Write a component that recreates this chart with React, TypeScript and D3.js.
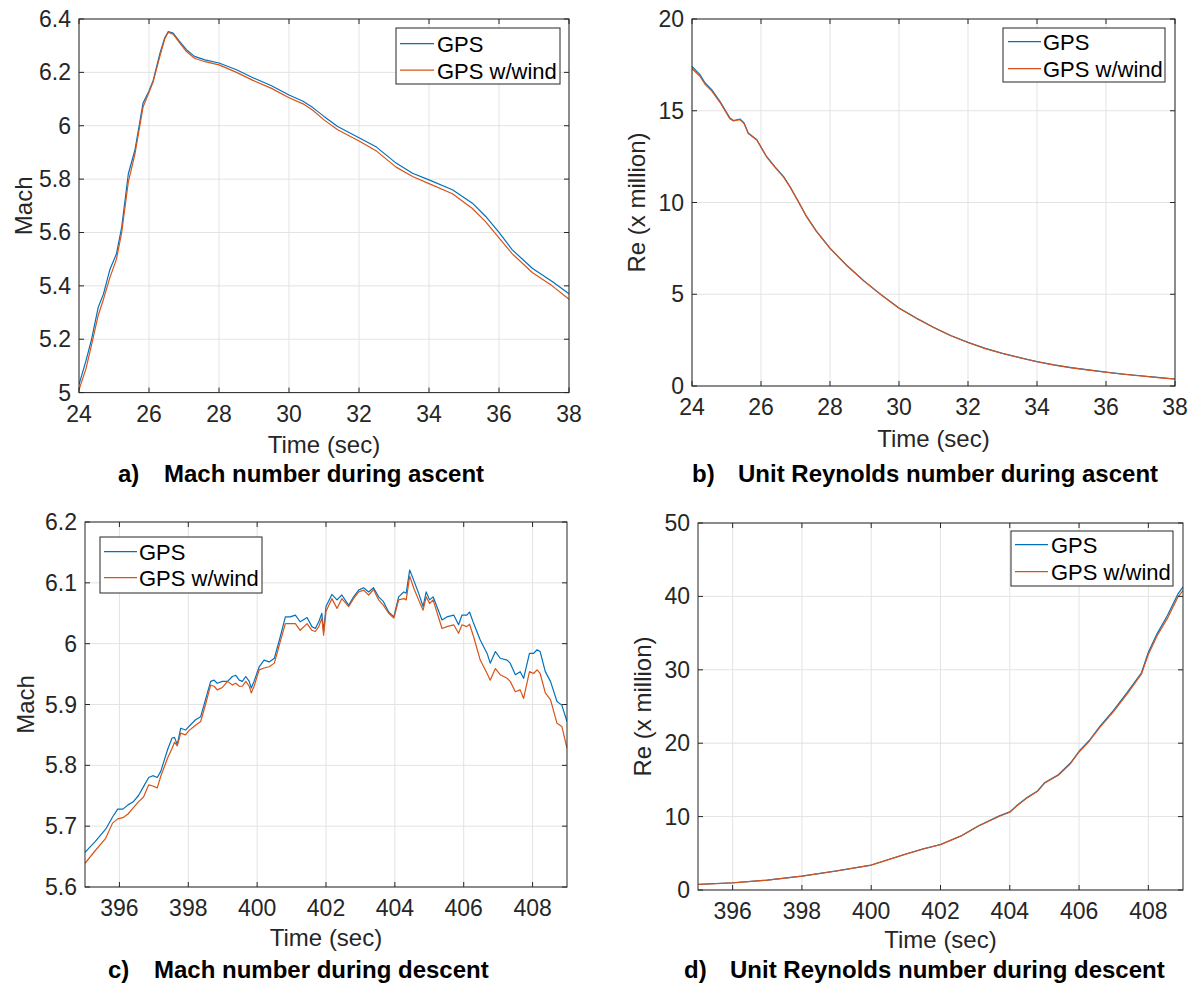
import React from "react";
import * as d3 from "d3";

// ---------- DATA ----------
// a) Mach number during ascent
const ascentMachTime = [24.0, 24.2, 24.36, 24.55, 24.7, 24.88, 25.07, 25.22, 25.41, 25.6, 25.83, 26.0, 26.12, 26.31, 26.45, 26.55, 26.69, 26.85, 27.07, 27.3, 27.6, 28.0, 28.5, 28.97, 29.5, 30.0, 30.4, 30.68, 31.0, 31.39, 32.0, 32.5, 33.06, 33.53, 34.0, 34.67, 35.24, 35.62, 36.0, 36.38, 36.95, 37.52, 38.0];
const ascentMachGPS = [5.03, 5.12, 5.2, 5.32, 5.37, 5.46, 5.52, 5.62, 5.82, 5.91, 6.085, 6.13, 6.17, 6.27, 6.33, 6.353, 6.347, 6.32, 6.285, 6.26, 6.247, 6.235, 6.21, 6.18, 6.15, 6.115, 6.092, 6.068, 6.035, 5.997, 5.955, 5.92, 5.86, 5.822, 5.797, 5.76, 5.71, 5.66, 5.6, 5.535, 5.466, 5.416, 5.37];
const ascentMachWind = [5.01, 5.09, 5.18, 5.29, 5.35, 5.43, 5.5, 5.6, 5.79, 5.895, 6.07, 6.125, 6.165, 6.26, 6.325, 6.35, 6.343, 6.315, 6.278, 6.253, 6.24, 6.228, 6.2, 6.17, 6.14, 6.105, 6.082, 6.058, 6.022, 5.985, 5.943, 5.905, 5.845, 5.81, 5.783, 5.745, 5.69, 5.64, 5.58, 5.52, 5.45, 5.4, 5.35];

// b) Unit Reynolds number during ascent (x million)
const ascentReTime = [24.0, 24.23, 24.38, 24.57, 24.81, 25.1, 25.2, 25.39, 25.51, 25.63, 25.88, 26.16, 26.4, 26.65, 26.84, 27.1, 27.32, 27.6, 28.0, 28.5, 29.0, 29.5, 30.0, 30.5, 31.0, 31.5, 32.0, 32.5, 33.0, 33.5, 34.0, 34.5, 35.0, 35.5, 36.0, 36.5, 37.0, 37.5, 38.0];
const ascentReGPS = [17.42, 16.97, 16.51, 16.15, 15.51, 14.6, 14.47, 14.55, 14.33, 13.79, 13.42, 12.51, 11.95, 11.42, 10.87, 10.0, 9.24, 8.45, 7.51, 6.55, 5.7, 4.95, 4.25, 3.7, 3.2, 2.75, 2.38, 2.05, 1.78, 1.55, 1.33, 1.15, 1.0, 0.88, 0.76, 0.65, 0.56, 0.47, 0.38];
const ascentReWind = [17.3, 16.88, 16.44, 16.08, 15.46, 14.56, 14.44, 14.52, 14.3, 13.76, 13.4, 12.49, 11.93, 11.4, 10.85, 9.98, 9.23, 8.44, 7.5, 6.54, 5.69, 4.94, 4.24, 3.69, 3.19, 2.74, 2.37, 2.04, 1.77, 1.54, 1.32, 1.14, 0.99, 0.87, 0.75, 0.64, 0.55, 0.46, 0.37];

// c) Mach number during descent
const descentMachTime = [395.0, 395.3, 395.6, 395.8, 395.95, 396.1, 396.25, 396.4, 396.55, 396.7, 396.85, 396.97, 397.1, 397.2, 397.4, 397.53, 397.6, 397.68, 397.78, 397.92, 398.02, 398.21, 398.36, 398.5, 398.65, 398.75, 398.84, 398.99, 399.14, 399.28, 399.38, 399.48, 399.57, 399.67, 399.77, 399.83, 399.91, 400.06, 400.2, 400.35, 400.5, 400.67, 400.82, 400.96, 401.11, 401.25, 401.45, 401.59, 401.69, 401.79, 401.88, 401.93, 402.0, 402.17, 402.32, 402.46, 402.66, 402.8, 402.95, 403.09, 403.24, 403.38, 403.53, 403.67, 403.82, 403.97, 404.11, 404.26, 404.33, 404.43, 404.55, 404.69, 404.82, 404.91, 405.01, 405.11, 405.22, 405.37, 405.51, 405.71, 405.85, 405.95, 406.09, 406.17, 406.29, 406.48, 406.68, 406.77, 406.92, 407.06, 407.26, 407.35, 407.5, 407.64, 407.74, 407.91, 408.03, 408.13, 408.22, 408.37, 408.52, 408.71, 408.85, 409.0];
const descentMachGPS = [5.657, 5.675, 5.695, 5.715, 5.728, 5.728, 5.735, 5.74, 5.75, 5.765, 5.78, 5.783, 5.78, 5.79, 5.826, 5.845, 5.846, 5.834, 5.861, 5.858, 5.864, 5.875, 5.88, 5.908, 5.938, 5.94, 5.935, 5.938, 5.938, 5.946, 5.948, 5.94, 5.938, 5.946, 5.938, 5.927, 5.938, 5.962, 5.973, 5.97, 5.976, 6.011, 6.044, 6.044, 6.047, 6.036, 6.043, 6.028, 6.025, 6.036, 6.05, 6.02, 6.061, 6.081, 6.072, 6.08, 6.063, 6.077, 6.088, 6.092, 6.085, 6.092, 6.077, 6.069, 6.052, 6.044, 6.077, 6.085, 6.083, 6.121, 6.104, 6.083, 6.061, 6.085, 6.072, 6.077, 6.061, 6.039, 6.044, 6.047, 6.031, 6.047, 6.047, 6.052, 6.033, 6.006, 5.984, 5.968, 5.987, 5.976, 5.973, 5.968, 5.949, 5.954, 5.943, 5.984, 5.984, 5.99, 5.987, 5.954, 5.938, 5.905, 5.899, 5.872];
const descentMachWind = [5.639, 5.66, 5.68, 5.705, 5.712, 5.714, 5.72, 5.73, 5.74, 5.748, 5.768, 5.766, 5.763, 5.782, 5.812, 5.828, 5.838, 5.832, 5.853, 5.85, 5.857, 5.866, 5.872, 5.9, 5.932, 5.93, 5.924, 5.928, 5.938, 5.932, 5.935, 5.93, 5.93, 5.938, 5.93, 5.919, 5.93, 5.957, 5.96, 5.962, 5.968, 6.003, 6.033, 6.033, 6.033, 6.022, 6.033, 6.022, 6.02, 6.028, 6.042, 6.014, 6.053, 6.074, 6.058, 6.074, 6.061, 6.074, 6.085, 6.088, 6.08, 6.089, 6.072, 6.063, 6.05, 6.042, 6.072, 6.074, 6.072, 6.111, 6.091, 6.072, 6.055, 6.077, 6.066, 6.072, 6.052, 6.025, 6.028, 6.031, 6.017, 6.031, 6.028, 6.032, 6.011, 5.973, 5.951, 5.94, 5.959, 5.949, 5.943, 5.938, 5.921, 5.924, 5.91, 5.954, 5.951, 5.957, 5.951, 5.919, 5.908, 5.869, 5.864, 5.828];

// d) Unit Reynolds number during descent (x million)
const descentReTime = [395.0, 396.0, 397.0, 398.0, 399.0, 400.0, 401.0, 401.5, 402.0, 402.6, 403.1, 403.7, 404.0, 404.2, 404.5, 404.8, 405.0, 405.4, 405.75, 406.0, 406.3, 406.6, 407.0, 407.4, 407.8, 408.0, 408.25, 408.55, 408.85, 409.0];
const descentReGPS = [0.76, 0.99, 1.35, 1.89, 2.6, 3.4, 4.9, 5.6, 6.2, 7.4, 8.75, 10.1, 10.65, 11.5, 12.6, 13.5, 14.6, 15.7, 17.3, 18.9, 20.4, 22.3, 24.5, 27.0, 29.6, 32.4, 34.9, 37.4, 40.3, 41.3];
const descentReWind = [0.75, 0.98, 1.34, 1.88, 2.59, 3.38, 4.88, 5.58, 6.18, 7.37, 8.72, 10.05, 10.6, 11.45, 12.55, 13.44, 14.53, 15.62, 17.2, 18.8, 20.3, 22.15, 24.35, 26.8, 29.4, 32.1, 34.6, 37.0, 39.9, 40.8];

// ticks
const ascentTimeTicks = [24, 26, 28, 30, 32, 34, 36, 38];
const ascentMachTicks = [5, 5.2, 5.4, 5.6, 5.8, 6, 6.2, 6.4];
const ascentReTicks = [0, 5, 10, 15, 20];
const descentTimeTicks = [396, 398, 400, 402, 404, 406, 408];
const descentMachTicks = [5.6, 5.7, 5.8, 5.9, 6, 6.1, 6.2];
const descentReTicks = [0, 10, 20, 30, 40, 50];

const seriesNames = ["GPS", "GPS w/wind"];
const seriesColors = ["#0072BD", "#D95319"];

// ---------- LAYOUT ----------
const FONT = "'Liberation Sans', Arial, Helvetica, sans-serif";
const AX = "#262626";
const GRID = "#e3e3e3";

type PanelCfg = {
  left: number; right: number; top: number; bottom: number;
  xDomain: [number, number]; yDomain: [number, number];
  xTicks: number[]; yTicks: number[];
  t: number[]; s1: number[]; s2: number[];
  ylabel: string; ylabelX: number;
  xlabelY: number;
  legend: { x: number; y: number; w: number; h: number; lx1: number; lx2: number; tx: number; b1: number; b2: number };
  capLetter: string; capText: string; capLX: number; capTX: number; capY: number;
};

const panels: PanelCfg[] = [
  {
    left: 79, right: 569, top: 19, bottom: 392.6,
    xDomain: [24, 38], yDomain: [5, 6.4], xTicks: ascentTimeTicks, yTicks: ascentMachTicks,
    t: ascentMachTime, s1: ascentMachGPS, s2: ascentMachWind,
    ylabel: "Mach", ylabelX: 32, xlabelY: 453,
    legend: { x: 396, y: 28, w: 164, h: 56, lx1: 400, lx2: 434, tx: 437, b1: 52, b2: 78.5 },
    capLetter: "a)", capText: "Mach number during ascent", capLX: 118, capTX: 164, capY: 482,
  },
  {
    left: 692, right: 1175, top: 19, bottom: 386,
    xDomain: [24, 38], yDomain: [0, 20], xTicks: ascentTimeTicks, yTicks: ascentReTicks,
    t: ascentReTime, s1: ascentReGPS, s2: ascentReWind,
    ylabel: "Re (x million)", ylabelX: 645, xlabelY: 447,
    legend: { x: 1003, y: 28, w: 162, h: 54, lx1: 1008, lx2: 1041, tx: 1043, b1: 50, b2: 77 },
    capLetter: "b)", capText: "Unit Reynolds number during ascent", capLX: 692, capTX: 738, capY: 482,
  },
  {
    left: 85, right: 567, top: 522, bottom: 887,
    xDomain: [395, 409], yDomain: [5.6, 6.2], xTicks: descentTimeTicks, yTicks: descentMachTicks,
    t: descentMachTime, s1: descentMachGPS, s2: descentMachWind,
    ylabel: "Mach", ylabelX: 34, xlabelY: 946,
    legend: { x: 100, y: 537, w: 162, h: 56, lx1: 104, lx2: 137, tx: 139, b1: 560, b2: 586 },
    capLetter: "c)", capText: "Mach number during descent", capLX: 108, capTX: 154, capY: 978,
  },
  {
    left: 698, right: 1183, top: 523, bottom: 890,
    xDomain: [395, 409], yDomain: [0, 50], xTicks: descentTimeTicks, yTicks: descentReTicks,
    t: descentReTime, s1: descentReGPS, s2: descentReWind,
    ylabel: "Re (x million)", ylabelX: 651, xlabelY: 948,
    legend: { x: 1011, y: 531, w: 162, h: 55, lx1: 1015, lx2: 1048, tx: 1051, b1: 553, b2: 580 },
    capLetter: "d)", capText: "Unit Reynolds number during descent", capLX: 684, capTX: 730, capY: 978,
  },
];

const fmt = (v: number) => String(+v.toFixed(2));

function Panel({ c }: { c: PanelCfg }) {
  const x = d3.scaleLinear().domain(c.xDomain).range([c.left, c.right]);
  const y = d3.scaleLinear().domain(c.yDomain).range([c.bottom, c.top]);
  const line = d3.line<number>().x((_, i) => x(c.t[i])).y((v) => y(v));
  const tick = 5;
  const clipId = `clip-${c.capLetter.replace(")", "")}`;
  const L = c.legend;
  return (
    <g>
      <defs>
        <clipPath id={clipId}>
          <rect x={c.left} y={c.top} width={c.right - c.left} height={c.bottom - c.top} />
        </clipPath>
      </defs>
      {c.xTicks.map((t) => (
        <line key={"gx" + t} x1={x(t)} x2={x(t)} y1={c.top} y2={c.bottom} stroke={GRID} strokeWidth={1} />
      ))}
      {c.yTicks.map((t) => (
        <line key={"gy" + t} x1={c.left} x2={c.right} y1={y(t)} y2={y(t)} stroke={GRID} strokeWidth={1} />
      ))}
      <g clipPath={`url(#${clipId})`}>
        <path d={line(c.s1) || ""} fill="none" stroke={seriesColors[0]} strokeWidth={1.2} strokeLinejoin="round" />
        <path d={line(c.s2) || ""} fill="none" stroke={seriesColors[1]} strokeWidth={1.2} strokeLinejoin="round" />
      </g>
      <rect x={c.left} y={c.top} width={c.right - c.left} height={c.bottom - c.top} fill="none" stroke={AX} strokeWidth={1} />
      {c.xTicks.map((t) => (
        <g key={"tx" + t}>
          <line x1={x(t)} x2={x(t)} y1={c.bottom} y2={c.bottom - tick} stroke={AX} />
          <line x1={x(t)} x2={x(t)} y1={c.top} y2={c.top + tick} stroke={AX} />
          <text x={x(t)} y={c.bottom + 29} textAnchor="middle" fontSize={23} fill={AX} fontFamily={FONT}>
            {fmt(t)}
          </text>
        </g>
      ))}
      {c.yTicks.map((t) => (
        <g key={"ty" + t}>
          <line x1={c.left} x2={c.left + tick} y1={y(t)} y2={y(t)} stroke={AX} />
          <line x1={c.right} x2={c.right - tick} y1={y(t)} y2={y(t)} stroke={AX} />
          <text x={c.left - 8} y={y(t) + 8} textAnchor="end" fontSize={23} fill={AX} fontFamily={FONT}>
            {fmt(t)}
          </text>
        </g>
      ))}
      <text x={(c.left + c.right) / 2} y={c.xlabelY} textAnchor="middle" fontSize={24} fill={AX} fontFamily={FONT}>
        Time (sec)
      </text>
      <text
        transform={`translate(${c.ylabelX},${(c.top + c.bottom) / 2}) rotate(-90)`}
        textAnchor="middle" fontSize={24} fill={AX} fontFamily={FONT}
      >
        {c.ylabel}
      </text>
      <rect x={L.x} y={L.y} width={L.w} height={L.h} fill="#fff" stroke={AX} strokeWidth={1} />
      {seriesNames.map((n, i) => {
        const b = i === 0 ? L.b1 : L.b2;
        return (
          <g key={n}>
            <line x1={L.lx1} x2={L.lx2} y1={b - 8.3} y2={b - 8.3} stroke={seriesColors[i]} strokeWidth={1.2} />
            <text x={L.tx} y={b} fontSize={22} fill="#000" fontFamily={FONT}>{n}</text>
          </g>
        );
      })}
      <text x={c.capLX} y={c.capY} fontSize={24} fontWeight="bold" fill="#000" fontFamily={FONT}>{c.capLetter}</text>
      <text x={c.capTX} y={c.capY} fontSize={24} fontWeight="bold" fill="#000" fontFamily={FONT}>{c.capText}</text>
    </g>
  );
}

export default function App() {
  return (
    <svg width={1194} height={983} style={{ position: "absolute", left: 0, top: 0, background: "#fff" }}>
      <rect x={0} y={0} width={1194} height={983} fill="#fff" />
      {panels.map((p) => (
        <Panel key={p.capLetter} c={p} />
      ))}
    </svg>
  );
}
